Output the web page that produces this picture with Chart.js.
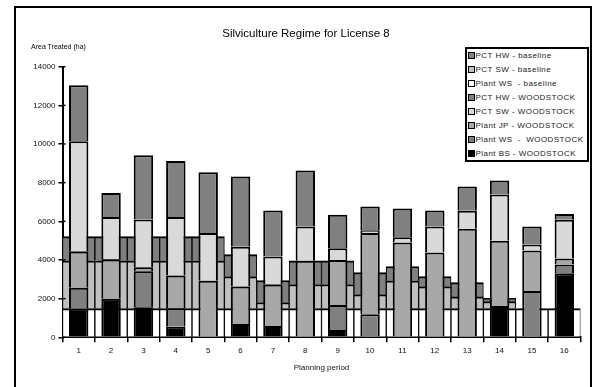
<!DOCTYPE html>
<html>
<head>
<meta charset="utf-8">
<script src="https://cdn.jsdelivr.net/npm/chart.js@4"></script>
<style>
  body { margin: 0; background: #fff; }
  #wrap { position: relative; width: 594px; height: 387px; overflow: hidden; background: #fff;
          font-family: "Liberation Sans", Arial, sans-serif; color: #000; }
  #frame { position: absolute; left: 14px; top: 6px; width: 578px; height: 400px;
           border: 2px solid #000; box-sizing: border-box; }
  #chart { position: absolute; left: 0; top: 0; }
  #title { position: absolute; left: 0; width: 612px; top: 26px; line-height: 14px;
           text-align: center; font-size: 11.5px; }
  #ylabel { position: absolute; left: 31px; top: 43px; line-height: 8px; font-size: 7px; }
  #legend { position: absolute; left: 465px; top: 47px; width: 124px; height: 115px;
            border: 2px solid #000; box-sizing: border-box; background: #fff; overflow: hidden; }
  .row { height: 14px; line-height: 14px; font-size: 8px; letter-spacing: 0.45px; white-space: nowrap; color: #222; }
  .sw { display: inline-block; width: 5px; height: 5px; border: 1px solid #000;
        margin: 0 1px 0 0.5px; vertical-align: -0.5px; }
</style>
</head>
<body>
<div id="wrap">
  <div id="frame"></div>
  <canvas id="chart" width="594" height="387"></canvas>
  <div id="title">Silviculture Regime for License 8</div>
  <div id="ylabel">Area Treated (ha)</div>
  <div id="legend"></div>
</div>
<script>
// planning periods
const periods = ['1', '2', '3', '4', '5', '6', '7', '8', '9', '10', '11', '12', '13', '14', '15', '16'];
const yTickValues = [0, 2000, 4000, 6000, 8000, 10000, 12000, 14000];

// baseline (wide bars), bottom to top
const plantWsBaseline = [1480, 1480, 1480, 1480, 1480, 1480, 1480, 1480, 1480, 1480, 1480, 1480, 1480, 1480, 1480, 1480];
const pctSwBaseline = [2480, 2480, 2480, 2480, 2480, 1660, 320, 1250, 1250, 730, 1440, 1145, 610, 370, 0, 0];
const pctHwBaseline = [1250, 1250, 1250, 1250, 1250, 1140, 1140, 1230, 1230, 1140, 745, 520, 740, 170, 0, 0];

// WOODSTOCK (narrow bars), bottom to top
const plantBsWood = [1480, 1990, 1555, 550, 0, 690, 590, 0, 380, 0, 0, 0, 0, 1620, 0, 3320];
const plantWsWood = [1080, 0, 1865, 950, 0, 0, 0, 0, 1295, 1190, 0, 0, 0, 0, 2400, 450];
const plantJpWood = [1880, 2050, 210, 1700, 2920, 1935, 2140, 3955, 2330, 4200, 4905, 4387, 5613, 3370, 2090, 310];
const pctSwWood = [5700, 2180, 2470, 3025, 2470, 2055, 1450, 1780, 600, 150, 276, 1345, 935, 2400, 310, 2000];
const pctHwWood = [2900, 1245, 3320, 2900, 3145, 3645, 2385, 2900, 1730, 1230, 1485, 830, 1260, 725, 935, 295];

const baseBar = (label, data, color) => ({
  label, data, backgroundColor: color, borderColor: '#000',
  borderWidth: { top: 2, left: 1, right: 1, bottom: 0 },
  stack: 'base', order: 2, grouped: false, barPercentage: 1, categoryPercentage: 1,
});
const woodBar = (label, data, color) => ({
  label, data, backgroundColor: color, borderColor: '#000',
  borderWidth: { top: 2, left: 2, right: 2, bottom: 0 },
  stack: 'wood', order: 1, grouped: false, barPercentage: 0.6, categoryPercentage: 1,
});

const datasets = [
  baseBar('Plant WS  - baseline', plantWsBaseline, '#ffffff'),
  baseBar('PCT SW - baseline', pctSwBaseline, '#c0c0c0'),
  baseBar('PCT HW - baseline', pctHwBaseline, '#808080'),
  woodBar('Plant BS - WOODSTOCK', plantBsWood, '#000000'),
  woodBar('Plant WS  -  WOODSTOCK', plantWsWood, '#808080'),
  woodBar('Plant JP - WOODSTOCK', plantJpWood, '#a8a8a8'),
  woodBar('PCT SW - WOODSTOCK', pctSwWood, '#d9d9d9'),
  woodBar('PCT HW - WOODSTOCK', pctHwWood, '#808080'),
];

// legend, top of each stack first
const legendOrder = [2, 1, 0, 7, 6, 5, 4, 3];
document.getElementById('legend').innerHTML = legendOrder.map(i => {
  const ds = datasets[i];
  return '<div class="row"><span class="sw" style="background:' + ds.backgroundColor + '"></span>' +
    ds.label.replace(/ /g, '&nbsp;') + '</div>';
}).join('');

// tick marks that cross the y axis
const crossTicks = {
  id: 'crossTicks',
  afterDraw(chart) {
    const { ctx, scales: { y }, chartArea } = chart;
    ctx.save();
    ctx.strokeStyle = '#000';
    ctx.lineWidth = 1.5;
    yTickValues.forEach(v => {
      const py = y.getPixelForValue(v);
      ctx.beginPath();
      ctx.moveTo(chartArea.left, py);
      ctx.lineTo(chartArea.left + 3, py);
      ctx.stroke();
    });
    ctx.restore();
  }
};

Chart.defaults.font.family = '"Liberation Sans", Arial, sans-serif';
Chart.defaults.color = '#111';

new Chart(document.getElementById('chart'), {
  type: 'bar',
  data: { labels: periods, datasets },
  options: {
    responsive: false,
    animation: false,
    devicePixelRatio: 1,
    layout: { padding: { left: 0, right: 13.5, top: 66.7, bottom: 0 } },
    plugins: { legend: { display: false }, tooltip: { enabled: false } },
    scales: {
      x: {
        stacked: true,
        grid: { offset: true, drawOnChartArea: false, drawTicks: true, tickLength: 5, color: '#000', lineWidth: 1.5 },
        border: { display: true, color: '#000', width: 2 },
        ticks: { font: { size: 8 }, padding: 4, color: '#111', maxRotation: 0, autoSkip: false },
        title: { display: true, text: 'Planning period', font: { size: 8 }, color: '#111', padding: { top: 0, bottom: 14 } },
        afterFit: s => { s.height = 49.7; },
      },
      y: {
        stacked: true,
        min: 0,
        max: 14000,
        afterBuildTicks: s => { s.ticks = yTickValues.map(v => ({ value: v })); },
        grid: { drawOnChartArea: false, drawTicks: true, tickLength: 4, color: '#000', lineWidth: 1.5 },
        border: { display: true, color: '#000', width: 2 },
        ticks: { font: { size: 8 }, padding: 3, color: '#111', callback: v => String(v) },
        afterFit: s => { s.width = 62.5; },
      },
    },
  },
  plugins: [crossTicks],
});
</script>
</body>
</html>
